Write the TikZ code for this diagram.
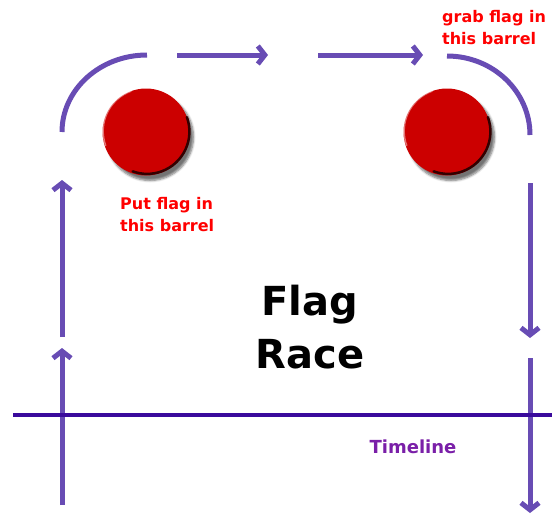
\documentclass[tikz,border=0pt]{standalone}
\usepackage{fontspec}
\setmainfont{DejaVu Sans}
\usepackage{xcolor}
\usepackage{tikz}
\usetikzlibrary{arrows.meta,shadows.blur}

\definecolor{flowpurple}{RGB}{104,76,180}
\definecolor{linepurple}{RGB}{58,10,156}
\definecolor{labelpurple}{RGB}{122,31,168}
\definecolor{barrelred}{RGB}{204,0,0}

\begin{document}
\begin{tikzpicture}[x=1pt,y=-1pt,
    flow/.style={flowpurple, line width=5pt},
    flowarrow/.style={flow, -{Straight Barb[length=7pt,width=18pt]}},
    barrel/.style={circle, fill=barrelred, minimum size=87pt, inner sep=0pt, outer sep=0pt,
      blur shadow={shadow xshift=4pt, shadow yshift=-5pt, shadow opacity=55, shadow blur steps=6}},
    rim/.style={barrelred!25!black, line width=2.5pt, line cap=round},
    shine/.style={white, opacity=.45, line width=1.5pt, line cap=round},
    note/.style={text=red, font=\bfseries\fontsize{16}{22}\selectfont, align=left, inner sep=0pt}]

            % fix the page
            \useasboundingbox (0,0) rectangle (552,514);

            % barrels
            \node[barrel] (putbarrel) at (146,132) {};
            \node[barrel] (grabbarrel) at (447,132) {};
            \foreach \b in {putbarrel,grabbarrel} {
              \draw[rim] (\b.20) arc[start angle=-20, end angle=110, radius=42.3];
              \draw[shine] (\b.110) arc[start angle=-110, end angle=-200, radius=42.5];
            }

            % corner and path points
            \coordinate (leftcorner) at (62,132);
            \coordinate (toplefta) at (177,55);
            \coordinate (topleftb) at (268,55);
            \coordinate (toprighta) at (318,55);
            \coordinate (toprightb) at (423,55);
            \coordinate (rightcorner) at (447,56);
            \coordinate (leftup) at (62,180);
            \coordinate (leftmid) at (62,337);
            \coordinate (leftmidtip) at (62,348);
            \coordinate (leftlow) at (62,505);
            \coordinate (rightup) at (530,183);
            \coordinate (rightmidtip) at (530,338);
            \coordinate (rightmid) at (530,358);
            \coordinate (rightlow) at (530,513);
            \coordinate (timestart) at (13,415);
            \coordinate (timeend) at (552,415);

            % round corners at the top
            \draw[flow] (leftcorner) arc[start angle=180, end angle=270, x radius=85, y radius=77];
            \draw[flow] (rightcorner) arc[start angle=270, end angle=360, x radius=83, y radius=79];

            % arrows along the top
            \draw[flowarrow] (toplefta) -- (topleftb);
            \draw[flowarrow] (toprighta) -- (toprightb);

            % arrows up the left side
            \draw[flowarrow] (leftmid) -- (leftup);
            \draw[flowarrow] (leftlow) -- (leftmidtip);

            % arrows down the right side
            \draw[flowarrow] (rightup) -- (rightmidtip);
            \draw[flowarrow] (rightmid) -- (rightlow);

            % timeline
            \draw[linepurple, line width=4pt] (timestart) -- (timeend);

            % labels
            \node[note, anchor=north west] (putlabel) at (120,197) {Put flag in\\this barrel};
            \node[note, anchor=north west] (grablabel) at (442,10) {grab flag in\\this barrel};
            \node[font=\bfseries\fontsize{40}{53}\selectfont, align=center] (flagrace) at (310,327) {Flag\\Race};
            \node[text=labelpurple, font=\bfseries\fontsize{18}{20}\selectfont, anchor=base] (timelabel) at (413,453) {Timeline};
\end{tikzpicture}
\end{document}
